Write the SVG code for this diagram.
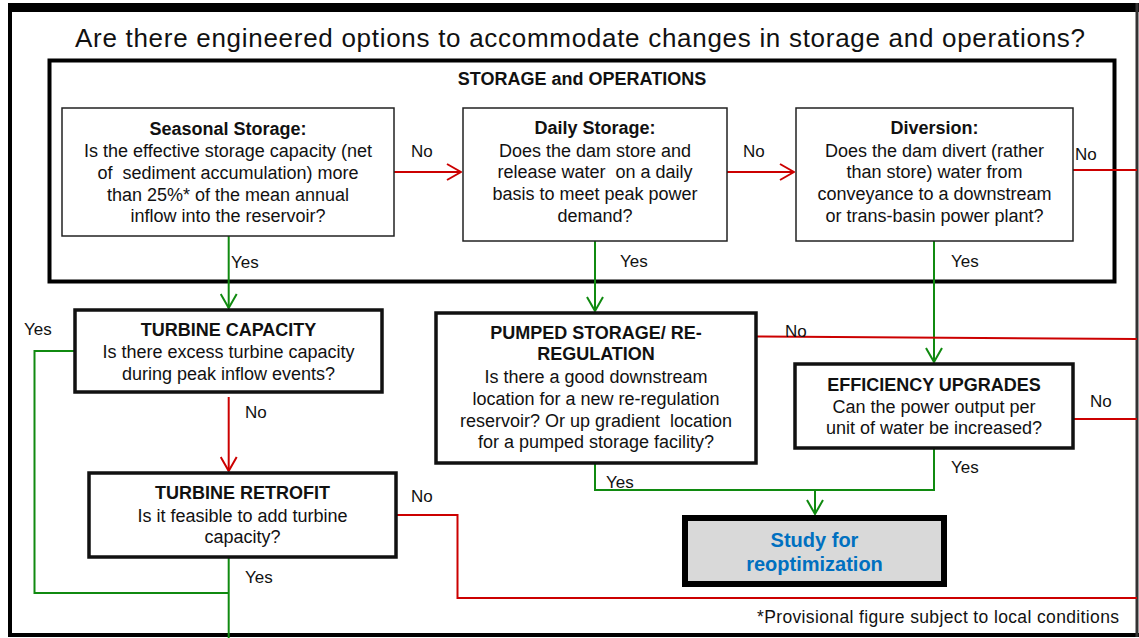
<svg xmlns="http://www.w3.org/2000/svg" width="1139" height="638" viewBox="0 0 1139 638">
<style>
text{font-family:"Liberation Sans",Arial,sans-serif;fill:#111;white-space:pre;}
.t{font-size:18px;text-anchor:middle;}
.b{font-weight:bold;}
.lbl{font-size:17px;}
.box{fill:#fff;stroke:#222;stroke-width:1.5;}
.tbox{fill:#fff;stroke:#111;stroke-width:3.5;}
.red{fill:none;stroke:#cc0000;stroke-width:2;}
.grn{fill:none;stroke:#108a10;stroke-width:2;}
</style>
<defs>
<marker id="ar" viewBox="0 0 16 18" refX="15" refY="9" markerWidth="16" markerHeight="18" markerUnits="userSpaceOnUse" orient="auto"><path d="M1,1 L15,9 L1,17" fill="none" stroke="#cc0000" stroke-width="2"/></marker>
<marker id="ag" viewBox="0 0 16 18" refX="15" refY="9" markerWidth="16" markerHeight="18" markerUnits="userSpaceOnUse" orient="auto"><path d="M1,1 L15,9 L1,17" fill="none" stroke="#108a10" stroke-width="2"/></marker>
</defs>
<rect x="0" y="0" width="1139" height="638" fill="#fff"/>
<g id="frame">
<rect x="8" y="3" width="1131" height="9" fill="#000"/>
<line x1="10" y1="3" x2="10" y2="637" stroke="#000" stroke-width="4"/>
<line x1="8" y1="635" x2="1139" y2="635" stroke="#000" stroke-width="4"/>
<line x1="1137" y1="3" x2="1137" y2="637" stroke="#333" stroke-width="3"/>
<text x="580" y="47" font-size="26" text-anchor="middle" textLength="1010" lengthAdjust="spacing">Are there engineered options to accommodate changes in storage and operations?</text>
</g>
<g id="storage-operations">
<rect x="49.5" y="60.5" width="1065" height="221" fill="none" stroke="#000" stroke-width="4"/>
<text class="t b" x="582" y="85">STORAGE and OPERATIONS</text>
</g>
<g id="connectors">
<path class="red" d="M394,172 H461" marker-end="url(#ar)"/>
<path class="red" d="M727,172 H794" marker-end="url(#ar)"/>
<path class="red" d="M1073,170 H1137"/>
<path class="grn" d="M228.7,236 V308" marker-end="url(#ag)"/>
<path class="grn" d="M595,241 V311" marker-end="url(#ag)"/>
<path class="grn" d="M934,241 V362" marker-end="url(#ag)"/>
<path class="red" d="M228.7,397 V471" marker-end="url(#ar)"/>
<path class="grn" d="M75,351 H34.5 V593 H228.7"/>
<path class="grn" d="M228.7,557 V638"/>
<path class="red" d="M396,515 H457.5 V598 H1137"/>
<path class="red" d="M756,336.5 L1137,339"/>
<path class="red" d="M1073,419 H1137"/>
<path class="grn" d="M595,463 V490 H815"/>
<path class="grn" d="M934,448 V490 H815 V514" marker-end="url(#ag)"/>
<text class="lbl" x="411" y="157">No</text>
<text class="lbl" x="743" y="157">No</text>
<text class="lbl" x="1075" y="160">No</text>
<text class="lbl" x="231" y="268">Yes</text>
<text class="lbl" x="620" y="267">Yes</text>
<text class="lbl" x="951" y="267">Yes</text>
<text class="lbl" x="24" y="335">Yes</text>
<text class="lbl" x="245" y="418">No</text>
<text class="lbl" x="245" y="583">Yes</text>
<text class="lbl" x="411" y="502">No</text>
<text class="lbl" x="785" y="337">No</text>
<text class="lbl" x="606" y="488">Yes</text>
<text class="lbl" x="1090" y="407">No</text>
<text class="lbl" x="951" y="473">Yes</text>
</g>
<g id="seasonal-storage">
<rect class="box" x="62" y="108" width="332" height="128"/>
<text class="t b" x="228" y="135">Seasonal Storage:</text>
<text class="t" x="228" y="157">Is the effective storage capacity (net</text>
<text class="t" x="228" y="179">of  sediment accumulation) more</text>
<text class="t" x="228" y="200.5">than 25%* of the mean annual</text>
<text class="t" x="228" y="222">inflow into the reservoir?</text>
</g>
<g id="daily-storage">
<rect class="box" x="463" y="108" width="264" height="133"/>
<text class="t b" x="595" y="134">Daily Storage:</text>
<text class="t" x="595" y="156.5">Does the dam store and</text>
<text class="t" x="595" y="178">release water  on a daily</text>
<text class="t" x="595" y="200">basis to meet peak power</text>
<text class="t" x="595" y="221.5">demand?</text>
</g>
<g id="diversion">
<rect class="box" x="796" y="108" width="277" height="133"/>
<text class="t b" x="934.5" y="134">Diversion:</text>
<text class="t" x="934.5" y="156.5">Does the dam divert (rather</text>
<text class="t" x="934.5" y="178">than store) water from</text>
<text class="t" x="934.5" y="200">conveyance to a downstream</text>
<text class="t" x="934.5" y="221.5">or trans-basin power plant?</text>
</g>
<g id="turbine-capacity">
<rect class="tbox" x="75" y="310" width="307" height="82"/>
<text class="t b" x="228.5" y="336">TURBINE CAPACITY</text>
<text class="t" x="228.5" y="358">Is there excess turbine capacity</text>
<text class="t" x="228.5" y="380">during peak inflow events?</text>
</g>
<g id="turbine-retrofit">
<rect class="tbox" x="89" y="473" width="307" height="84"/>
<text class="t b" x="242.5" y="499">TURBINE RETROFIT</text>
<text class="t" x="242.5" y="521.5">Is it feasible to add turbine</text>
<text class="t" x="242.5" y="543">capacity?</text>
</g>
<g id="pumped-storage">
<rect class="tbox" x="436" y="313" width="320" height="150"/>
<text class="t b" x="596" y="339">PUMPED STORAGE/ RE-</text>
<text class="t b" x="596" y="360">REGULATION</text>
<text class="t" x="596" y="382.5">Is there a good downstream</text>
<text class="t" x="596" y="405">location for a new re-regulation</text>
<text class="t" x="596" y="426.5">reservoir? Or up gradient  location</text>
<text class="t" x="596" y="448">for a pumped storage facility?</text>
</g>
<g id="efficiency-upgrades">
<rect class="tbox" x="795" y="364" width="278" height="84"/>
<text class="t b" x="934" y="390.5">EFFICIENCY UPGRADES</text>
<text class="t" x="934" y="413">Can the power output per</text>
<text class="t" x="934" y="433.5">unit of water be increased?</text>
</g>
<g id="study">
<rect x="685" y="518" width="259" height="66" fill="#d9d9d9" stroke="#000" stroke-width="6"/>
<text x="814.5" y="546.5" font-size="20" font-weight="bold" text-anchor="middle" style="fill:#0070c0">Study for</text>
<text x="814.5" y="570.5" font-size="20" font-weight="bold" text-anchor="middle" style="fill:#0070c0">reoptimization</text>
</g>
<g id="footnote">
<text x="757" y="623" font-size="17.5" textLength="362" lengthAdjust="spacing">*Provisional figure subject to local conditions</text>
</g>
</svg>
